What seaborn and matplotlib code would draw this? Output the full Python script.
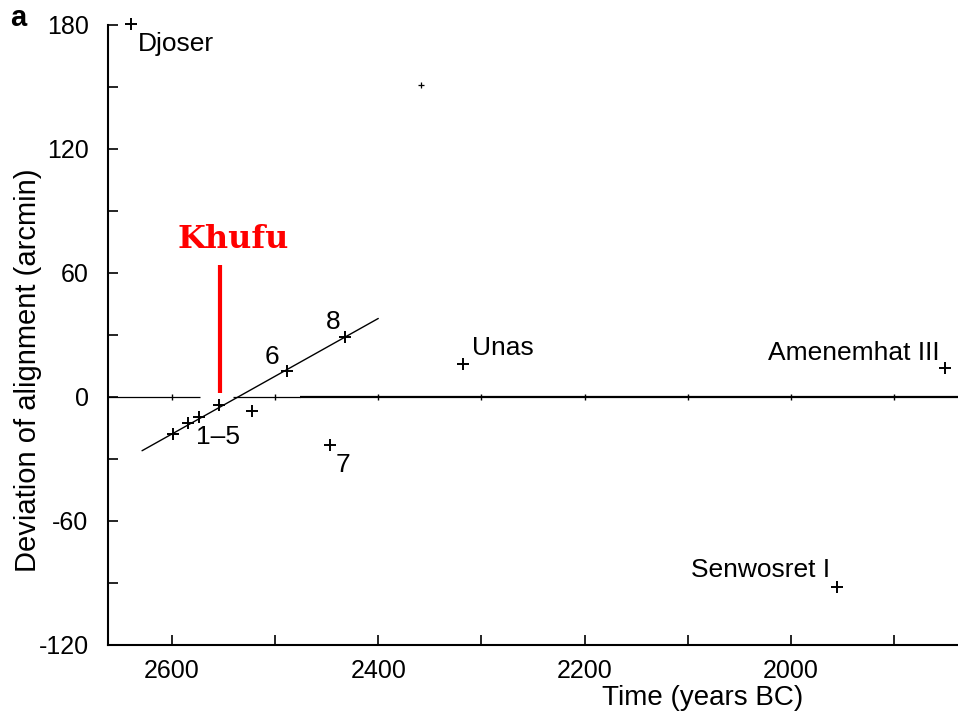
import matplotlib
matplotlib.use("Agg")
import matplotlib.pyplot as plt
import seaborn as sns
import pandas as pd

# ---------------- data ----------------
point_years = [2640, 2599, 2584, 2574, 2554, 2522, 2488, 2447, 2432, 2318, 1955, 1851]
point_dev = [180.5, -18, -12.4, -9.5, -3.7, -6.6, 12.6, -23, 29, 16, -92, 14]

faint_years = [2359]
faint_dev = [151]

fit_years = [2629, 2400]
fit_dev = [-26, 38]

khufu_year = 2553.5
khufu_dev = [2, 64]

label_texts = ["Djoser", "Unas", "Amenemhat III", "Senwosret I", "8", "6", "1–5", "7"]
label_years = [2633, 2309, 1856, 1962, 2444, 2503, 2555, 2434]
label_dev = [170.8, 23.7, 21.3, -83.7, 36.3, 19.4, -19.3, -32.9]
label_ha = ["left", "left", "right", "right", "center", "center", "center", "center"]

zero_thin_segments = [(2662, 2573), (2541, 2476)]
zero_thick_segment = (2476, 1838)

x_major = [2600, 2400, 2200, 2000]
x_minor = [2500, 2300, 2100, 1900]
y_major = [-120, -60, 0, 60, 120, 180]
y_minor = [-90, -30, 30, 90, 150]
x_limits = (2662, 1838)
y_limits = (-120, 180)

# ---------------- style ----------------
sns.set_style("ticks")
plt.rcParams["font.family"] = ["Liberation Sans", "DejaVu Sans"]
plt.rcParams["text.color"] = "black"
plt.rcParams["axes.labelcolor"] = "black"
plt.rcParams["xtick.color"] = "black"
plt.rcParams["ytick.color"] = "black"

fig = plt.figure(figsize=(9.58, 7.15), dpi=100)
ax = fig.add_axes([108 / 958, 1 - 645 / 715, 1 - 108 / 958, 620 / 715])

# zero line
for a, b in zero_thin_segments:
    ax.plot([a, b], [0, 0], color="black", lw=0.9, solid_capstyle="butt")
ax.plot(list(zero_thick_segment), [0, 0], color="black", lw=1.6, solid_capstyle="butt")
zero_ticks = sorted(x_major + x_minor, reverse=True)
ax.plot(zero_ticks, [0] * len(zero_ticks), linestyle="none", marker="|",
        color="black", markersize=5, markeredgewidth=1.0)

# fit line
sns.lineplot(x=fit_years, y=fit_dev, ax=ax, color="black", lw=1.0,
             estimator=None, sort=False)

# points
df = pd.DataFrame({"year": point_years, "dev": point_dev})
sns.scatterplot(data=df, x="year", y="dev", ax=ax, marker="+", s=70,
                color="black", linewidth=1.4, clip_on=False, zorder=5)
sns.scatterplot(x=faint_years, y=faint_dev, ax=ax, marker="+", s=14,
                color="black", linewidth=0.9, zorder=5)

# Khufu marker
ax.plot([khufu_year, khufu_year], khufu_dev, color="#ff0000", lw=3.0,
        solid_capstyle="butt", zorder=6)
ax.text(2541, 76, "Khufu", color="#ff0000", fontsize=23, fontweight="bold",
        family=["DejaVu Serif"], ha="center", va="center")

# labels
for t, xv, yv, ha in zip(label_texts, label_years, label_dev, label_ha):
    ax.text(xv, yv, t, fontsize=19, ha=ha, va="center", color="black")

# axes
ax.set_xlim(*x_limits)
ax.set_ylim(*y_limits)
ax.set_xticks(x_major)
ax.set_xticks(x_minor, minor=True)
ax.set_yticks(y_major)
ax.set_yticks(y_minor, minor=True)
ax.set_xticklabels([str(v) for v in x_major])
ax.set_yticklabels([str(v) for v in y_major])
ax.tick_params(axis="both", which="both", direction="in", color="black",
               labelcolor="black", labelsize=18, width=1.2)
ax.tick_params(axis="both", which="major", length=7)
ax.tick_params(axis="both", which="minor", length=7)
ax.tick_params(axis="x", pad=10)
ax.tick_params(axis="y", pad=14)

sns.despine(ax=ax, top=True, right=True)
for s in ["left", "bottom"]:
    ax.spines[s].set_linewidth(1.5)
    ax.spines[s].set_color("black")

ax.set_xlabel("Time (years BC)", fontsize=20, color="black")
ax.xaxis.set_label_coords(0.699, -0.064)
ax.set_ylabel("Deviation of alignment (arcmin)", fontsize=21, color="black")
ax.yaxis.set_label_coords(-0.078, 0.4435)

fig.text(10 / 958, 1 - 18 / 715, "a", fontsize=21, fontweight="bold",
         ha="left", va="center", color="black")

fig.savefig("out.png", dpi=100, facecolor="white")
